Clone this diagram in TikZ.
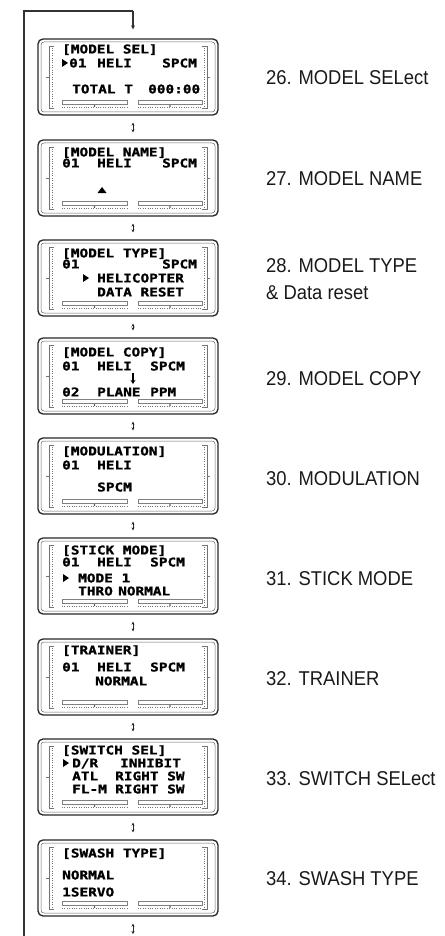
\documentclass[tikz,border=0pt]{standalone}
\usepackage{fontspec}
\setmainfont{Liberation Sans}
\newfontfamily\lcdf[FakeStretch=1.2,FakeBold=1.2]{DejaVu Sans Mono}
\newfontfamily\labf[FakeStretch=0.92]{Liberation Sans}
\usetikzlibrary{arrows.meta}
\newcounter{tn}
\tikzset{
 lcdbox/.style={draw=black!85, line width=1.3pt, rounded corners=5pt, minimum width=180pt, minimum height=76pt, inner sep=0pt},
 lcdinner/.style={draw=black!60, line width=0.5pt, rounded corners=3pt},
 gauge/.style={draw=black!55, line width=0.6pt},
 gaugedot/.style={draw=black!55, line width=0.6pt, dash pattern=on 0.8pt off 1.6pt},
 barbox/.style={draw=black!50, line width=0.5pt},
 lcdtxt/.style={font=\lcdf\bfseries\fontsize{12}{12}\selectfont, anchor=west, inner sep=0pt, text height=8.8pt, text depth=0pt, text=black},
 lab/.style={font=\labf\fontsize{20}{24}\selectfont, anchor=west, inner sep=0pt, text height=14.3pt, text depth=0pt, text=black!90},
 dbl/.style={{Stealth[length=3pt,width=3pt]}-{Stealth[length=3pt,width=3pt]}, line width=0.7pt, draw=black!85},
 loopline/.style={line width=1.1pt, draw=black!80},
}
\newcommand\lt[3]{\stepcounter{tn}\node[lcdtxt] (txt\arabic{tn}) at (#1,#2) {#3};}
\newcommand\ptr[2]{\fill[black] (#1-3,#2-4) -- (#1+3,#2) -- (#1-3,#2+4) -- cycle;}
\newcommand\lcdscreen[2]{%
 \node[lcdbox] (#1) at (128,#2+38) {};
 \begin{scope}[shift={(0,#2)}]
  \draw[lcdinner] (41,3) rectangle (215,73);
  \draw[gauge] (54,7) -- (49,7) -- (49,69) -- (54,69);
  \draw[gaugedot] (52,9) -- (52,67);
  \draw[gauge] (46,38) -- (49,38);
  \draw[gauge] (202,7) -- (207,7) -- (207,69) -- (202,69);
  \draw[gaugedot] (204,9) -- (204,67);
  \draw[gauge] (207,38) -- (210,38);
  \draw[barbox] (62,61) rectangle (127,65);
  \draw[gaugedot] (62,68) -- (127,68);
  \fill[black!80] (94.5,67) circle (0.9);
  \draw[barbox] (138,61) rectangle (202,65);
  \draw[gaugedot] (138,68) -- (202,68);
  \fill[black!80] (170,67) circle (0.9);
 \end{scope}}
\begin{document}
\begin{tikzpicture}[x=1pt,y=-1pt]
\useasboundingbox (0,0) rectangle (444,936);
% screens
\lcdscreen{s1}{39}
\lcdscreen{s2}{140}
\lcdscreen{s3}{240}
\lcdscreen{s4}{338}
\lcdscreen{s5}{438}
\lcdscreen{s6}{538}
\lcdscreen{s7}{639}
\lcdscreen{s8}{739}
\lcdscreen{s9}{840}
% screen 1
\begin{scope}[shift={(0,39)}]
 \lt{62}{10}{[MODEL SEL]}
 \ptr{65}{24}
 \lt{69}{24}{01} \lt{97}{24}{HELI} \lt{162}{24}{SPCM}
 \lt{72}{50}{TOTAL T} \lt{148}{50}{000:00}
\end{scope}
% screen 2
\begin{scope}[shift={(0,140)}]
 \lt{62}{12}{[MODEL NAME]}
 \lt{62}{23}{01} \lt{97}{23}{HELI} \lt{162}{23}{SPCM}
 \fill[black] (97.5,53) -- (106.5,53) -- (102,47) -- cycle;
\end{scope}
% screen 3
\begin{scope}[shift={(0,240)}]
 \lt{62}{13}{[MODEL TYPE]}
 \lt{62}{24}{01} \lt{162}{24}{SPCM}
 \ptr{86}{38}
 \lt{97}{38}{HELICOPTER}
 \lt{97}{52}{DATA RESET}
\end{scope}
% screen 4
\begin{scope}[shift={(0,338)}]
 \lt{62}{14}{[MODEL COPY]}
 \lt{62}{28}{01} \lt{97}{28}{HELI} \lt{150}{28}{SPCM}
 \draw[-{Stealth[length=4pt,width=5pt]}, line width=1.6pt] (133,35) -- (133,46);
 \lt{62}{54}{02} \lt{97}{54}{PLANE} \lt{150}{54}{PPM}
\end{scope}
% screen 5
\begin{scope}[shift={(0,438)}]
 \lt{62}{13}{[MODULATION]}
 \lt{62}{27}{01} \lt{97}{27}{HELI}
 \lt{97}{49}{SPCM}
\end{scope}
% screen 6
\begin{scope}[shift={(0,538)}]
 \lt{62}{12}{[STICK MODE]}
 \lt{62}{24}{01} \lt{97}{24}{HELI} \lt{150}{24}{SPCM}
 \ptr{66}{40}
 \lt{78}{40}{MODE 1}
 \lt{78}{53}{THRO} \lt{118}{53}{NORMAL}
\end{scope}
% screen 7
\begin{scope}[shift={(0,639)}]
 \lt{62}{11}{[TRAINER]}
 \lt{62}{28}{01} \lt{97}{28}{HELI} \lt{150}{28}{SPCM}
 \lt{95}{42}{NORMAL}
\end{scope}
% screen 8
\begin{scope}[shift={(0,739)}]
 \lt{62}{11}{[SWITCH SEL]}
 \ptr{66}{24}
 \lt{72}{24}{D/R} \lt{120}{24}{INHIBIT}
 \lt{72}{37}{ATL} \lt{115}{37}{RIGHT SW}
 \lt{72}{50}{FL-M} \lt{115}{50}{RIGHT SW}
\end{scope}
% screen 9
\begin{scope}[shift={(0,840)}]
 \lt{62}{13}{[SWASH TYPE]}
 \lt{62}{35}{NORMAL}
 \lt{62}{52}{1SERVO}
\end{scope}
% labels
\node[lab] (l26) at (266,77) {26. MODEL SELect};
\node[lab] (l27) at (266,178) {27. MODEL NAME};
\node[lab] (l28) at (266,265) {28. MODEL TYPE};
\node[lab] (l28b) at (266,292) {\& Data reset};
\node[lab] (l29) at (266,378) {29. MODEL COPY};
\node[lab] (l30) at (266,478) {30. MODULATION};
\node[lab] (l31) at (266,578) {31. STICK MODE};
\node[lab] (l32) at (266,678) {32. TRAINER};
\node[lab] (l33) at (266,778) {33. SWITCH SELect};
\node[lab] (l34) at (266,878) {34. SWASH TYPE};
% connectors between screens
\foreach \a/\b in {s1/s2,s2/s3,s3/s4,s4/s5,s5/s6,s6/s7,s7/s8,s8/s9}{
 \draw[dbl] ([xshift=5pt,yshift=-7pt]\a.south) -- ([xshift=5pt,yshift=7pt]\b.north);
}
% loop
\coordinate (lbot) at (24,936);
\coordinate (ltop) at (24,11);
\coordinate (rtop) at (133,11);
\coordinate (bend) at (133,934);
\draw[loopline] (lbot) -- (ltop) -- (rtop);
\draw[loopline, -{Stealth[length=4pt,width=4pt]}] (rtop) -- ([xshift=5pt,yshift=9pt]s1.north);
\draw[dbl] ([xshift=5pt,yshift=-7pt]s9.south) -- (bend);
\end{tikzpicture}
\end{document}
